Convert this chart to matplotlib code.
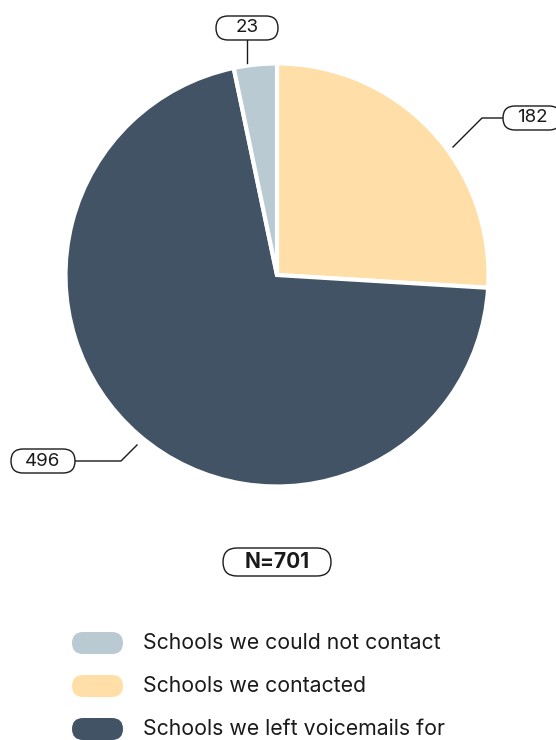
import matplotlib
matplotlib.use('Agg')
import matplotlib.pyplot as plt
from matplotlib.patches import FancyBboxPatch

plt.rcParams['font.family'] = ['Inter', 'DejaVu Sans']

# Données
categories = ["Schools we could not contact", "Schools we contacted", "Schools we left voicemails for"]
values = [23, 182, 496]
colors = ["#b9cad3", "#ffdfa7", "#415365"]
total = sum(values)

W, H = 556, 740
fig = plt.figure(figsize=(W / 100, H / 100), dpi=100)
ax = fig.add_axes([0, 0, 1, 1])

# Ordre de dessin : contacted, voicemails, could not contact (sens horaire depuis le haut)
order = [1, 2, 0]
cx, cy, r = 277, H - 275, 211.5
ax.pie([values[i] for i in order], colors=[colors[i] for i in order],
       startangle=90, counterclock=False, center=(cx, cy), radius=r,
       wedgeprops=dict(edgecolor="white", linewidth=3))

ax.set_xlim(0, W)
ax.set_ylim(0, H)
ax.set_aspect('equal')
ax.axis('off')


def pill(x, y, w, h, text, fs=13.5, weight='normal'):
    ax.add_patch(FancyBboxPatch((x - w / 2, y - h / 2), w, h,
                                boxstyle=f"round,pad=0,rounding_size={h / 2}",
                                fc="white", ec="#1a1a1a", lw=1.0, zorder=5))
    ax.text(x, y, text, ha='center', va='center', fontsize=fs,
            fontweight=weight, color="#1a1a1a", zorder=6)


# Étiquettes avec lignes de rappel
line_kw = dict(color="#1a1a1a", lw=1.0, zorder=4)
ax.plot([247, 247], [H - 40, H - 63], **line_kw)
pill(247, H - 28, 62, 24, str(values[0]))

ax.plot([503, 482, 453], [H - 118, H - 118, H - 147], **line_kw)
pill(532, H - 118, 58, 24, str(values[1]))

ax.plot([75, 121, 137], [H - 461, H - 461, H - 445], **line_kw)
pill(43, H - 461, 64, 24, str(values[2]))

pill(277, H - 562, 108, 28, f"N={total}", fs=15, weight='bold')

# Légende
for i, (lab, col) in enumerate(zip(categories, colors)):
    y = H - (643 + 43 * i)
    ax.add_patch(FancyBboxPatch((72, y - 11), 51, 22,
                                boxstyle="round,pad=0,rounding_size=11",
                                fc=col, ec="none"))
    ax.text(143, y, lab, ha='left', va='center', fontsize=15.3, color="#1a1a1a")

fig.savefig("out.png", dpi=100)
